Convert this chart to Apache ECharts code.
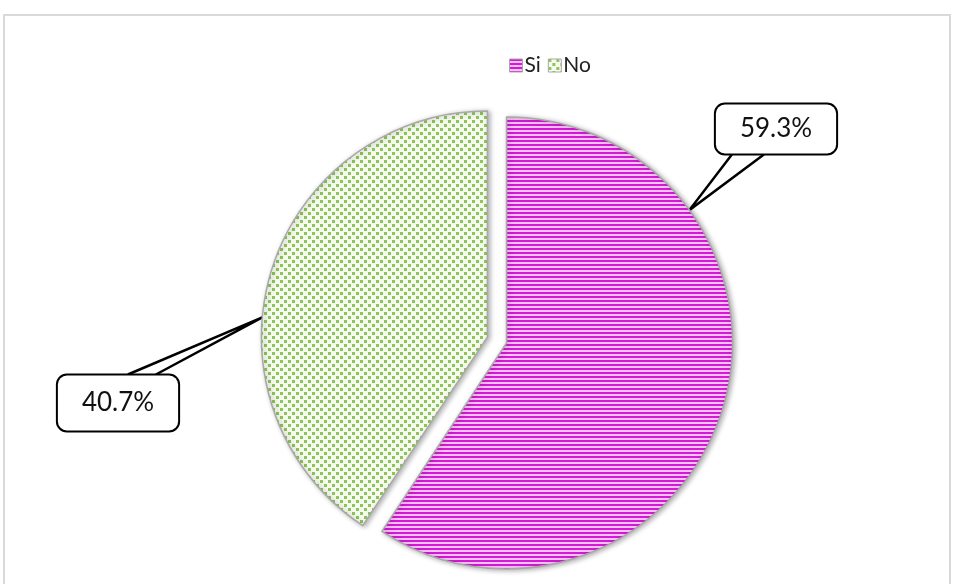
<!DOCTYPE html>
<html>
<head>
<meta charset="utf-8">
<script src="https://cdn.jsdelivr.net/npm/echarts@6/dist/echarts.min.js"></script>
<style>
  html, body { margin: 0; padding: 0; background: #fff; }
  #chart { width: 955px; height: 584px; }
</style>
</head>
<body>
<div id="chart"></div>
<script>
// Chart data
const categories = ["Si", "No"];
const values = [59.3, 40.7];

// Pie geometry
const CX = 497;
const CY = 340;
const R = 226;
const EXPLODE = 10;

// Callout boxes: centre of each box, where the tail leaves the box edge,
// and the angle (deg, clockwise from top) where the tail touches the pie
const labelSpots = [
  { x: 776, y: 129, tail: [18, 50], edge: "bottom", tipAngle: 54, padding: [12, 24, 11, 24] },
  { x: 118, y: 403, tail: [72, 100], edge: "top", tipAngle: 275, padding: [15, 24, 14, 24] },
];

// Striped magenta fill for "Si"
function stripePattern() {
  const c = document.createElement("canvas");
  c.width = 4;
  c.height = 4;
  const ctx = c.getContext("2d");
  ctx.fillStyle = "#f6c4f6";
  ctx.fillRect(0, 0, 4, 4);
  ctx.fillStyle = "#d619d6";
  ctx.fillRect(0, 0, 4, 2);
  return c;
}

// Dotted green fill for "No"
function dotPattern() {
  const c = document.createElement("canvas");
  c.width = 8;
  c.height = 8;
  const ctx = c.getContext("2d");
  ctx.fillStyle = "#f7fbef";
  ctx.fillRect(0, 0, 8, 8);
  ctx.fillStyle = "#8cc65a";
  ctx.fillRect(0, 0, 3, 3);
  ctx.fillRect(4, 4, 3, 3);
  return c;
}

const fills = [
  { image: stripePattern(), repeat: "repeat" },
  { image: dotPattern(), repeat: "repeat" },
];

// Mid angle of each slice, clockwise from 12 o'clock
const total = values.reduce((a, b) => a + b, 0);
const midAngles = [];
let acc = 0;
values.forEach((v) => {
  midAngles.push(((acc + v / 2) / total) * 360);
  acc += v;
});

function toRad(deg) {
  return (deg * Math.PI) / 180;
}

// Exploded centre of slice i
function sliceCenter(i) {
  const a = toRad(midAngles[i]);
  return [CX + EXPLODE * Math.sin(a), CY - EXPLODE * Math.cos(a)];
}

const hidden = {
  itemStyle: { color: "rgba(0,0,0,0)", borderWidth: 0, shadowBlur: 0, shadowColor: "rgba(0,0,0,0)" },
  label: { show: false },
  labelLine: { show: false },
};

function makeSeries(idx) {
  const c = sliceCenter(idx);
  return {
    type: "pie",
    name: categories[idx],
    center: c,
    radius: R,
    startAngle: 90,
    silent: true,
    data: categories.map((name, i) =>
      i === idx
        ? { name, value: values[i], itemStyle: { color: fills[i] } }
        : Object.assign({ name, value: values[i] }, hidden)
    ),
    itemStyle: {
      borderColor: "#a8a8a8",
      borderWidth: 1.5,
      shadowColor: "rgba(0,0,0,0.3)",
      shadowBlur: 5,
      shadowOffsetX: 2,
      shadowOffsetY: 1,
    },
    emphasis: { disabled: true },
    label: {
      show: true,
      formatter: (p) => p.value.toFixed(1) + "%",
      fontFamily: "Lato",
      fontSize: 26,
      color: "#111",
      backgroundColor: "#fff",
      borderColor: "#000",
      borderWidth: 2,
      borderRadius: 9,
      padding: labelSpots[idx].padding,
    },
    labelLine: {
      show: true,
      lineStyle: { color: "#000", width: 2.5 },
    },
    labelLayout: (params) => {
      if (params.dataIndex !== idx) return {};
      const s = labelSpots[idx];
      const w = params.labelRect.width;
      const h = params.labelRect.height;
      const left = s.x - w / 2;
      const ey = s.edge === "bottom" ? s.y + h / 2 - 1 : s.y - h / 2 + 1;
      const a = toRad(s.tipAngle);
      const tip = [c[0] + R * Math.sin(a), c[1] - R * Math.cos(a)];
      return {
        x: s.x,
        y: s.y,
        align: "center",
        verticalAlign: "middle",
        labelLinePoints: [[left + s.tail[0], ey], tip, [left + s.tail[1], ey]],
      };
    },
  };
}

const chart = echarts.init(document.getElementById("chart"));

const option = {
  animation: false,
  backgroundColor: "#fff",
  graphic: [
    {
      type: "rect",
      shape: { x: 4, y: 15, width: 946, height: 600 },
      style: { fill: "none", stroke: "#d9d9d9", lineWidth: 2 },
      silent: true,
    },
  ],
  legend: {
    top: 50,
    left: 504,
    itemWidth: 13,
    itemHeight: 13,
    itemGap: 7,
    icon: "rect",
    textStyle: {
      fontFamily: "Lato",
      fontSize: 21,
      color: "#222",
      padding: [0, 0, 0, -3],
    },
    data: categories.map((name, i) => ({
      name,
      itemStyle: { color: fills[i], borderColor: "#a8a8a8", borderWidth: 1 },
    })),
  },
  series: categories.map((_, i) => makeSeries(i)),
};

chart.setOption(option);
</script>
</body>
</html>
